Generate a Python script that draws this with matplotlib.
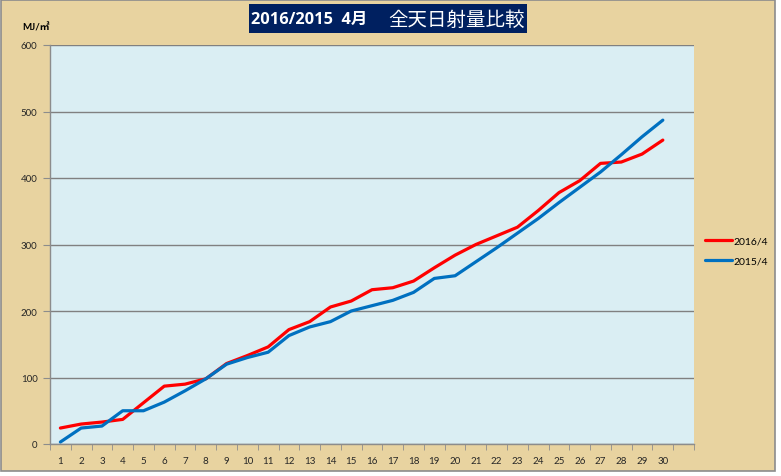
import numpy as np
import matplotlib
matplotlib.use('Agg')
import matplotlib.pyplot as plt
from matplotlib.patches import Rectangle

plt.rcParams['font.family'] = ['Lato', 'Noto Sans CJK JP', 'DejaVu Sans']

# data (MJ/m2, cumulative)
days = list(range(1, 31))
day_labels = [str(d) for d in days]
solar_2016 = [24, 30, 33, 37, 62, 87, 90, 98, 121, 133, 146, 172, 184, 206, 215,
              232, 235, 245, 265, 284, 300, 313, 326, 351, 378, 396, 422, 424, 436, 457]
solar_2015 = [3, 24, 27, 50, 50, 63, 80, 98, 120, 130, 138, 163, 176, 184, 200,
              208, 216, 228, 249, 253, 274, 295, 317, 339, 363, 386, 409, 435, 462, 487]
series_labels = ['2016/4', '2015/4']
y_ticks = [0, 100, 200, 300, 400, 500, 600]

W, H = 781, 477
fig = plt.figure(figsize=(W / 100, H / 100), dpi=100)
fig.patch.set_facecolor('white')

# papyrus-like chart background with grey frame
fig.patches.append(Rectangle((1 / W, 1 - 472 / H), 774 / W, 471 / H, transform=fig.transFigure,
                             facecolor='#E8D3A0', edgecolor='#8C8C8C', linewidth=1.2, zorder=-10))

ax = fig.add_axes([50 / W, 1 - 445 / H, 644 / W, 399 / H])
ax.set_zorder(1)
ax.set_facecolor('#DAEEF3')

ax.plot(days, solar_2016, color='#FF0000', linewidth=2.3, label=series_labels[0], solid_capstyle='round')
ax.plot(days, solar_2015, color='#0070C0', linewidth=2.3, label=series_labels[1], solid_capstyle='round')

ax.set_xlim(0.5, 31.5)
ax.set_ylim(0, 600)
ax.set_yticks(y_ticks)
ax.set_yticklabels([str(v) for v in y_ticks], fontsize=7, color='#262626')
ax.set_xticks(days)
ax.set_xticklabels(day_labels, fontsize=7, color='#262626')
ax.set_xticks(np.arange(0.5, 32, 1), minor=True)
ax.tick_params(axis='x', which='major', length=0, pad=9)
ax.tick_params(axis='x', which='minor', length=4, color='#8C8C8C', direction='out')
ax.tick_params(axis='y', length=5, color='#8C8C8C', direction='out', pad=4)
ax.yaxis.grid(True, color='#808080', linewidth=1.0)
ax.set_axisbelow(True)
for side in ['top', 'right']:
    ax.spines[side].set_visible(False)
for side in ['left', 'bottom']:
    ax.spines[side].set_color('#8C8C8C')
    ax.spines[side].set_linewidth(1.0)

# unit label
fig.text(22 / W, 1 - 28 / H, 'MJ/㎡', fontsize=7, fontweight='bold', va='center', ha='left',
         family=['Lato', 'Noto Sans CJK JP'])

# title box
fig.patches.append(Rectangle((249 / W, 1 - 34 / H), 278 / W, 29 / H, transform=fig.transFigure,
                             facecolor='#002060', edgecolor='none', zorder=2))
fig.text(367 / W, 1 - 20 / H, '2016/2015  4月', fontsize=11.8, fontweight='bold', color='white',
         ha='right', va='center', family=['Open Sans', 'Noto Sans CJK JP'], zorder=3)
fig.text(388 / W, 1 - 20 / H, '全天日射量比較', fontsize=14, color='white',
         ha='left', va='center', family=['Noto Sans CJK JP'], zorder=3)

ax.legend(loc='center left', bbox_to_anchor=(705 / W, 1 - 252 / H), bbox_transform=fig.transFigure,
          frameon=False, fontsize=7.5, handlelength=2.6, handletextpad=0.1, labelspacing=1.0,
          borderpad=0, borderaxespad=0)

fig.savefig('out.png', dpi=100)
